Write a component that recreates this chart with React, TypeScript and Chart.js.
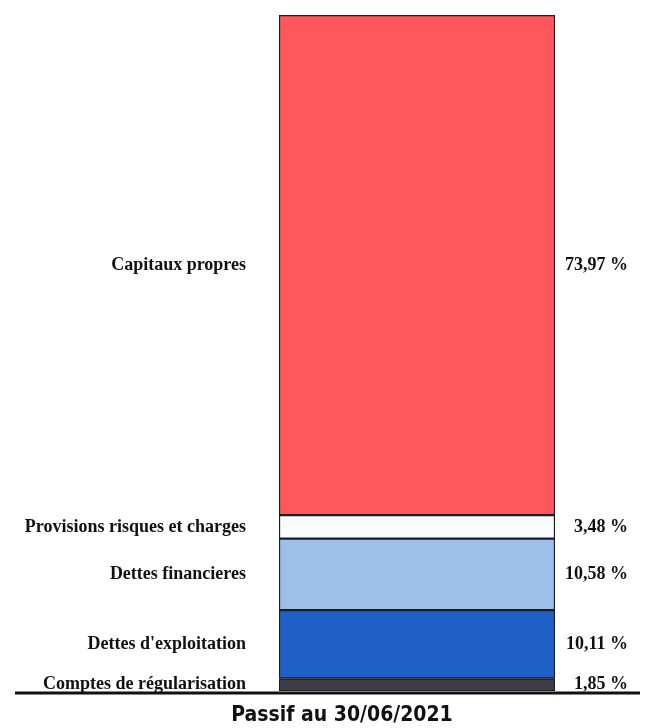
import React, { useEffect, useRef } from 'react';
import { Chart, registerables } from 'chart.js';

Chart.register(...registerables);

const CATEGORIES = [
  'Capitaux propres',
  'Provisions risques et charges',
  'Dettes financieres',
  "Dettes d'exploitation",
  'Comptes de régularisation',
];
const VALUES = [73.97, 3.48, 10.58, 10.11, 1.85];
const VALUE_LABELS = ['73,97 %', '3,48 %', '10,58 %', '10,11 %', '1,85 %'];
const COLORS = ['#ff575c', '#fbfcff', '#9ebfe9', '#1e60c6', '#3c3d47'];
const TITLE = 'Passif au 30/06/2021';

export default function App() {
  const ref = useRef<HTMLCanvasElement | null>(null);

  useEffect(() => {
    if (!ref.current) return;
    const order = CATEGORIES.map((_, i) => i).reverse();
    const datasets = order.map((i) => ({
      label: CATEGORIES[i],
      data: [VALUES[i]],
      backgroundColor: COLORS[i],
      borderColor: '#1c1c22',
      borderWidth: 1.5,
      borderSkipped: false as const,
      barPercentage: 1,
      categoryPercentage: 1,
      _idx: i,
    }));

    const textPlugin = {
      id: 'sideText',
      afterDatasetsDraw(chart: any) {
        const { ctx, chartArea } = chart;
        ctx.save();
        chart.data.datasets.forEach((ds: any, d: number) => {
          const meta = chart.getDatasetMeta(d);
          const el = meta.data[0];
          if (!el) return;
          const cy = (el.y + el.base) / 2;
          const i = ds._idx;
          ctx.fillStyle = '#111';
          ctx.textBaseline = 'middle';
          ctx.font = 'bold 18px "Liberation Serif"';
          ctx.textAlign = 'right';
          ctx.fillText(CATEGORIES[i], chartArea.left - 33, cy);
          ctx.fillText(VALUE_LABELS[i], chartArea.right + 73, cy);
        });
        // baseline
        const y0 = chart.scales.y.getPixelForValue(0);
        ctx.strokeStyle = '#111';
        ctx.lineWidth = 3;
        ctx.beginPath();
        ctx.moveTo(15, y0 + 2);
        ctx.lineTo(640, y0 + 2);
        ctx.stroke();
        // title
        ctx.textAlign = 'center';
        ctx.textBaseline = 'middle';
        ctx.font = 'bold 21px "DejaVu Sans Condensed"';
        ctx.fillText(TITLE, 342, y0 + 25);
        ctx.restore();
      },
    };

    const chart = new Chart(ref.current, {
      type: 'bar',
      data: { labels: [TITLE], datasets: datasets as any },
      options: {
        animation: false,
        responsive: false,
        maintainAspectRatio: false,
        layout: { padding: { left: 279, right: 103, top: 15, bottom: 37 } },
        plugins: { legend: { display: false }, tooltip: { enabled: false }, title: { display: false } },
        scales: {
          x: { stacked: true, display: false },
          y: { stacked: true, display: false, min: 0, max: 100 },
        },
      },
      plugins: [textPlugin],
    });
    return () => chart.destroy();
  }, []);

  return (
    <div style={{ position: 'fixed', left: 0, top: 0, width: 658, height: 728, background: '#fff' }}>
      <canvas ref={ref} width={658} height={728} style={{ display: 'block' }} />
    </div>
  );
}
